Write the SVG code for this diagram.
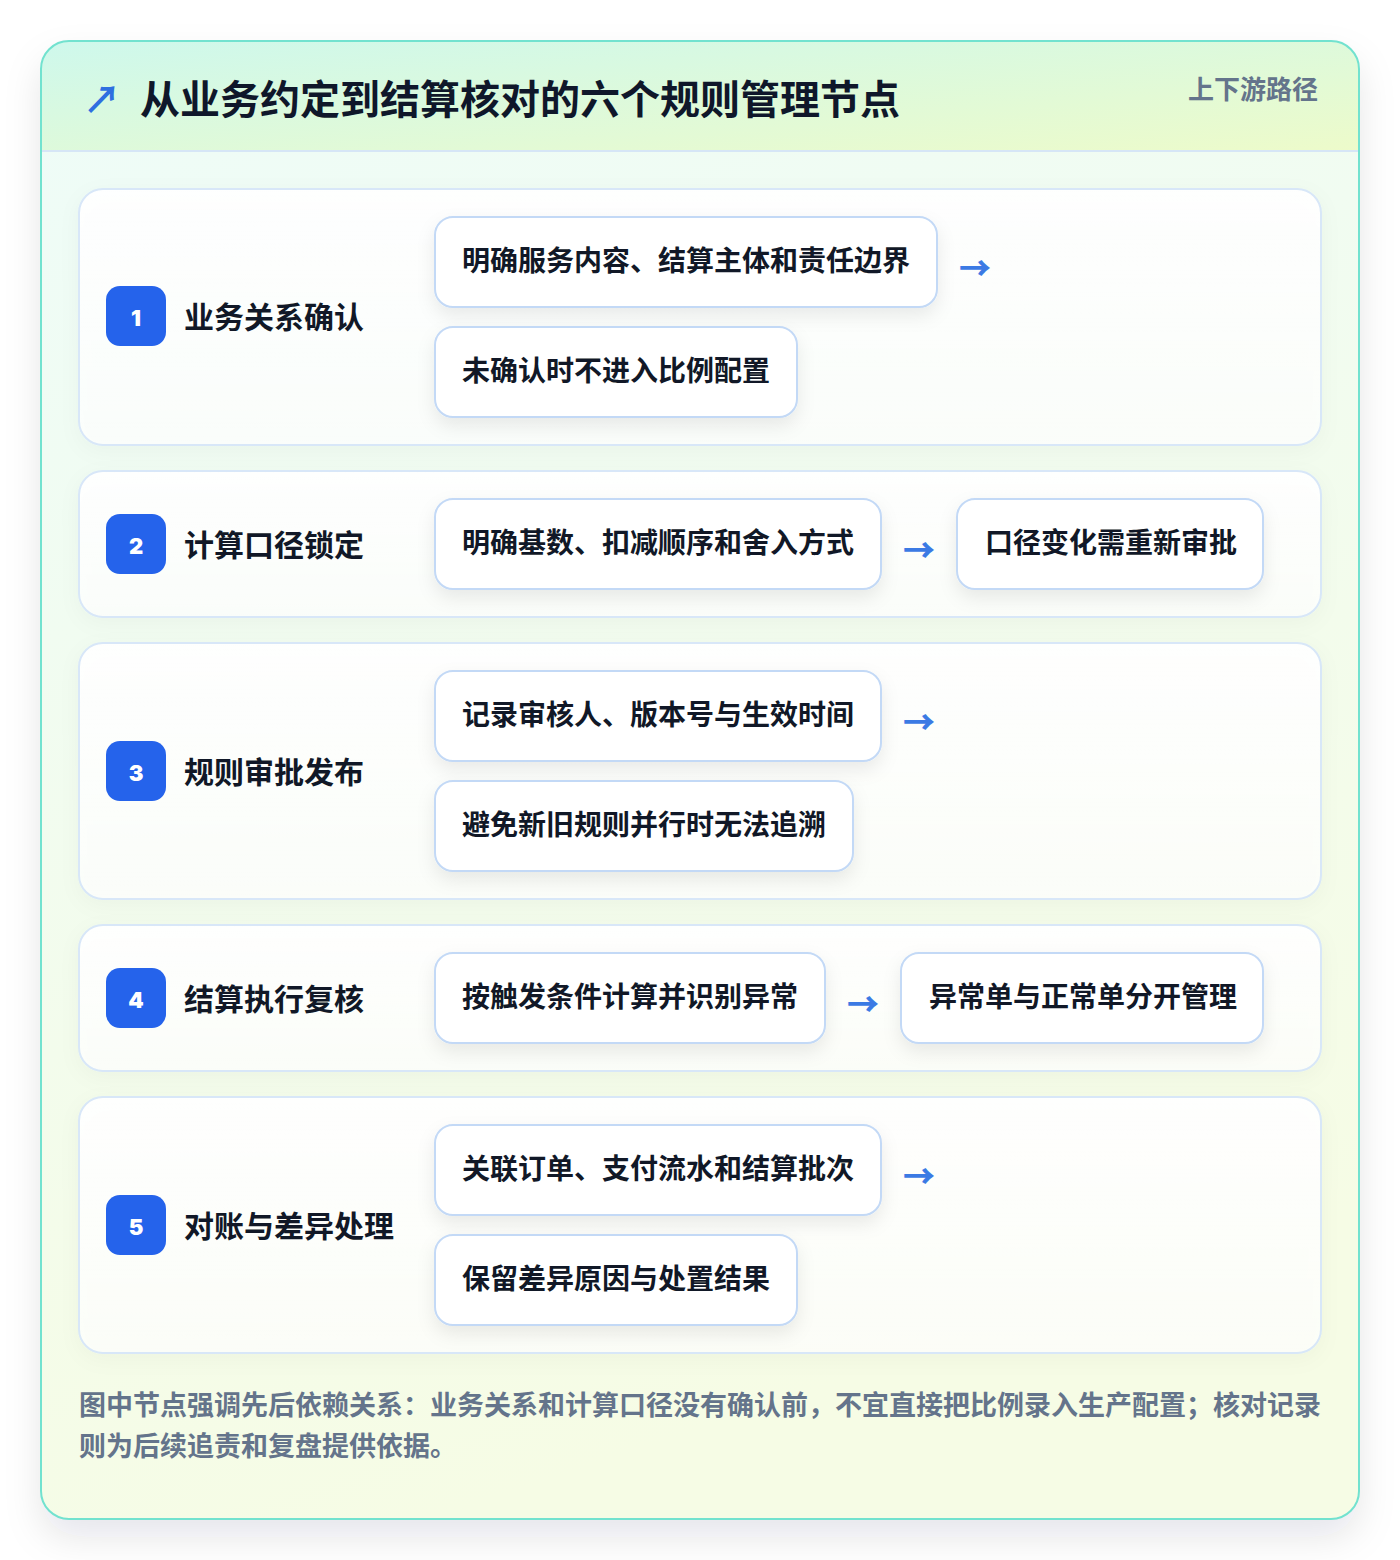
<svg xmlns="http://www.w3.org/2000/svg" width="1400" height="1560" viewBox="0 0 1400 1560">
<defs>
<linearGradient id="hdr" x1="0" y1="0" x2="1" y2="1">
<stop offset="0" stop-color="#cef8ec"/>
<stop offset="1" stop-color="#edfbca"/>
</linearGradient>
<linearGradient id="body" x1="0" y1="0" x2="0.3" y2="1">
<stop offset="0" stop-color="#eefcf8"/>
<stop offset="1" stop-color="#f6fce5"/>
</linearGradient>
<linearGradient id="panel" x1="0" y1="0" x2="0" y2="1">
<stop offset="0" stop-color="#ffffff" stop-opacity="0.95"/>
<stop offset="1" stop-color="#ffffff" stop-opacity="0.72"/>
</linearGradient>
<filter id="cardShadow" x="-10%" y="-10%" width="120%" height="120%">
<feDropShadow dx="0" dy="18" stdDeviation="18" flood-color="#0f172a" flood-opacity="0.10"/>
</filter>
<filter id="nodeShadow" x="-20%" y="-30%" width="140%" height="170%">
<feDropShadow dx="0" dy="8" stdDeviation="9" flood-color="#0f172a" flood-opacity="0.08"/>
</filter>
<filter id="panelShadow" x="-10%" y="-20%" width="120%" height="140%">
<feDropShadow dx="0" dy="6" stdDeviation="10" flood-color="#0f172a" flood-opacity="0.04"/>
</filter>
<clipPath id="cardClip"><rect x="41" y="41" width="1318" height="1478" rx="28"/></clipPath>
</defs>
<style>
.cjk{font-family:"Noto Sans CJK SC","Noto Sans",sans-serif;font-weight:700}
.title{font-size:40px;fill:#0f172a}
.tag{font-size:26px;fill:#64748b}
.panel{fill:url(#panel);stroke:#d8e7f8;stroke-width:2}
.badge{fill:#2563eb}
.num{font-family:Inter,"Noto Sans",sans-serif;font-weight:900;font-size:22px;fill:#ffffff}
.label{font-size:30px;fill:#111827}
.node{fill:#ffffff;stroke:#c3d9f6;stroke-width:2}
.ntext{font-size:28px;fill:#111827}
.arrow{font-family:"Noto Sans CJK SC",sans-serif;font-weight:900;font-size:32px;fill:#3b7ae4}
.icon{font-family:"Noto Sans CJK SC",sans-serif;font-weight:700;font-size:38px;fill:#2f6fe0}
.foot{font-size:27px;fill:#64748b}
</style>
<rect x="0" y="0" width="1400" height="1560" fill="#ffffff"/>
<g id="card">
<rect x="41" y="41" width="1318" height="1478" rx="28" fill="url(#body)" filter="url(#cardShadow)"/>
<g clip-path="url(#cardClip)">
<rect x="41" y="41" width="1318" height="110" fill="url(#hdr)"/>
<line x1="41" y1="151" x2="1359" y2="151" stroke="#d6e6f6" stroke-width="2"/>
</g>
<rect x="41" y="41" width="1318" height="1478" rx="28" fill="none" stroke="#72e2cf" stroke-width="2"/>
</g>
<g id="header">
<text x="83" y="113" class="icon">↗</text>
<text x="140" y="114" class="cjk title">从业务约定到结算核对的六个规则管理节点</text>
<text x="1318" y="99" text-anchor="end" class="cjk tag">上下游路径</text>
</g>
<g id="step1">
<rect x="79" y="189" width="1242" height="256" rx="24" class="panel" filter="url(#panelShadow)"/>
<rect x="106" y="286" width="60" height="60" rx="14" class="badge"/>
<text x="136" y="326" text-anchor="middle" class="num">1</text>
<text x="184" y="328" class="cjk label">业务关系确认</text>
</g>
<g id="node1a"><rect x="435" y="217" width="502" height="90" rx="18" class="node" filter="url(#nodeShadow)"/><text x="462" y="271" class="cjk ntext">明确服务内容、结算主体和责任边界</text></g>
<g id="node1b"><rect x="435" y="327" width="362" height="90" rx="18" class="node" filter="url(#nodeShadow)"/><text x="462" y="381" class="cjk ntext">未确认时不进入比例配置</text></g>
<g id="step2">
<rect x="79" y="471" width="1242" height="146" rx="24" class="panel" filter="url(#panelShadow)"/>
<rect x="106" y="514" width="60" height="60" rx="14" class="badge"/>
<text x="136" y="554" text-anchor="middle" class="num">2</text>
<text x="184" y="556" class="cjk label">计算口径锁定</text>
</g>
<g id="node2a"><rect x="435" y="499" width="446" height="90" rx="18" class="node" filter="url(#nodeShadow)"/><text x="462" y="553" class="cjk ntext">明确基数、扣减顺序和舍入方式</text></g>
<g id="node2b"><rect x="957" y="499" width="306" height="90" rx="18" class="node" filter="url(#nodeShadow)"/><text x="985" y="553" class="cjk ntext">口径变化需重新审批</text></g>
<g id="step3">
<rect x="79" y="643" width="1242" height="256" rx="24" class="panel" filter="url(#panelShadow)"/>
<rect x="106" y="741" width="60" height="60" rx="14" class="badge"/>
<text x="136" y="781" text-anchor="middle" class="num">3</text>
<text x="184" y="783" class="cjk label">规则审批发布</text>
</g>
<g id="node3a"><rect x="435" y="671" width="446" height="90" rx="18" class="node" filter="url(#nodeShadow)"/><text x="462" y="725" class="cjk ntext">记录审核人、版本号与生效时间</text></g>
<g id="node3b"><rect x="435" y="781" width="418" height="90" rx="18" class="node" filter="url(#nodeShadow)"/><text x="462" y="835" class="cjk ntext">避免新旧规则并行时无法追溯</text></g>
<g id="step4">
<rect x="79" y="925" width="1242" height="146" rx="24" class="panel" filter="url(#panelShadow)"/>
<rect x="106" y="968" width="60" height="60" rx="14" class="badge"/>
<text x="136" y="1008" text-anchor="middle" class="num">4</text>
<text x="184" y="1010" class="cjk label">结算执行复核</text>
</g>
<g id="node4a"><rect x="435" y="953" width="390" height="90" rx="18" class="node" filter="url(#nodeShadow)"/><text x="462" y="1007" class="cjk ntext">按触发条件计算并识别异常</text></g>
<g id="node4b"><rect x="901" y="953" width="362" height="90" rx="18" class="node" filter="url(#nodeShadow)"/><text x="929" y="1007" class="cjk ntext">异常单与正常单分开管理</text></g>
<g id="step5">
<rect x="79" y="1097" width="1242" height="256" rx="24" class="panel" filter="url(#panelShadow)"/>
<rect x="106" y="1195" width="60" height="60" rx="14" class="badge"/>
<text x="136" y="1235" text-anchor="middle" class="num">5</text>
<text x="184" y="1237" class="cjk label">对账与差异处理</text>
</g>
<g id="node5a"><rect x="435" y="1125" width="446" height="90" rx="18" class="node" filter="url(#nodeShadow)"/><text x="462" y="1179" class="cjk ntext">关联订单、支付流水和结算批次</text></g>
<g id="node5b"><rect x="435" y="1235" width="362" height="90" rx="18" class="node" filter="url(#nodeShadow)"/><text x="462" y="1289" class="cjk ntext">保留差异原因与处置结果</text></g>
<g id="connectors">
<text x="959" y="280" class="arrow">→</text>
<text x="903" y="562" class="arrow">→</text>
<text x="903" y="734" class="arrow">→</text>
<text x="847" y="1016" class="arrow">→</text>
<text x="903" y="1188" class="arrow">→</text>
</g>
<g id="footnote">
<text x="79" y="1415" class="cjk foot">图中节点强调先后依赖关系：业务关系和计算口径没有确认前，不宜直接把比例录入生产配置；核对记录</text>
<text x="79" y="1456" class="cjk foot">则为后续追责和复盘提供依据。</text>
</g>
</svg>
